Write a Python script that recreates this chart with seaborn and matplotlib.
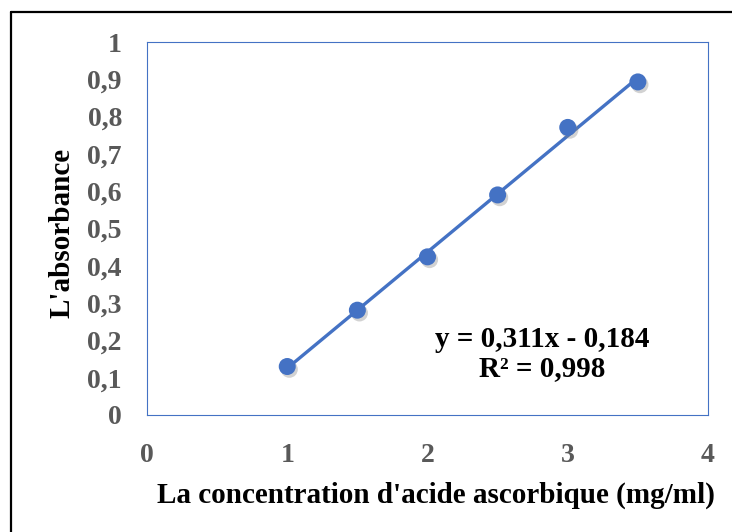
import numpy as np
import pandas as pd
import matplotlib
matplotlib.use("Agg")
import matplotlib.pyplot as plt
import matplotlib.patheffects as pe
from matplotlib.lines import Line2D
import seaborn as sns

# calibration data: ascorbic acid concentration (mg/ml) vs absorbance
concentration = [1.0, 1.5, 2.0, 2.5, 3.0, 3.5]
absorbance = [0.130, 0.281, 0.424, 0.590, 0.771, 0.893]
x_ticks = [0, 1, 2, 3, 4]
y_ticks = [0, 0.1, 0.2, 0.3, 0.4, 0.5, 0.6, 0.7, 0.8, 0.9, 1]
y_tick_labels = ["0", "0,1", "0,2", "0,3", "0,4", "0,5", "0,6", "0,7", "0,8", "0,9", "1"]
equation = "y = 0,311x - 0,184\nR² = 0,998"

BLUE = "#4472C4"
GREY = "#595959"

sns.set_theme(style="white")
plt.rcParams["font.family"] = ["Liberation Serif", "DejaVu Serif"]
plt.rcParams["font.weight"] = "bold"

df = pd.DataFrame({"conc": concentration, "abs": absorbance})

fig = plt.figure(figsize=(7.32, 5.32), dpi=100)
ax = fig.add_axes([147 / 732, 1 - 415 / 532, 561 / 732, 373 / 532])

sns.regplot(data=df, x="conc", y="abs", ax=ax, ci=None, scatter=False,
            line_kws={"color": BLUE, "lw": 2.4, "solid_capstyle": "butt"})
pts = ax.scatter(df["conc"], df["abs"], s=150, color=BLUE, zorder=3, linewidths=0)
pts.set_path_effects([
    pe.SimplePatchShadow(offset=(1.5, -2), shadow_rgbFace="#7f7f7f", alpha=0.35),
    pe.Normal(),
])

ax.set_xlim(0, 4)
ax.set_ylim(0, 1)
ax.set_xticks(x_ticks)
ax.set_xticklabels([str(t) for t in x_ticks])
ax.set_yticks(y_ticks)
ax.set_yticklabels(y_tick_labels)
ax.tick_params(axis="both", length=0, labelsize=20, labelcolor=GREY)
ax.tick_params(axis="x", pad=20)
ax.tick_params(axis="y", pad=18)
for lab in ax.get_xticklabels() + ax.get_yticklabels():
    lab.set_fontweight("bold")

for sp in ax.spines.values():
    sp.set_visible(True)
    sp.set_color(BLUE)
    sp.set_linewidth(0.8)

ax.set_xlabel("La concentration d'acide ascorbique (mg/ml)", fontsize=21,
              fontweight="bold", color="black", va="center")
ax.xaxis.set_label_coords((436 - 147) / 561, (415 - 495) / 373)
ax.set_ylabel("L'absorbance", fontsize=21, fontweight="bold", color="black",
              va="center")
ax.yaxis.set_label_coords((62 - 147) / 561, (415 - 233) / 373)

ax.text(2.816, 0.1635, equation, ha="center", va="center", multialignment="center",
        fontsize=21, fontweight="bold", color="black", linespacing=1.1)

# outer frame (only left and top edges visible)
fig.add_artist(Line2D([11 / 732, 11 / 732], [0, 1 - 12 / 532], color="black", lw=1.6,
                      transform=fig.transFigure))
fig.add_artist(Line2D([11 / 732, 1], [1 - 12 / 532, 1 - 12 / 532], color="black", lw=1.6,
                      transform=fig.transFigure))

fig.savefig("out.png", dpi=100, facecolor="white")
